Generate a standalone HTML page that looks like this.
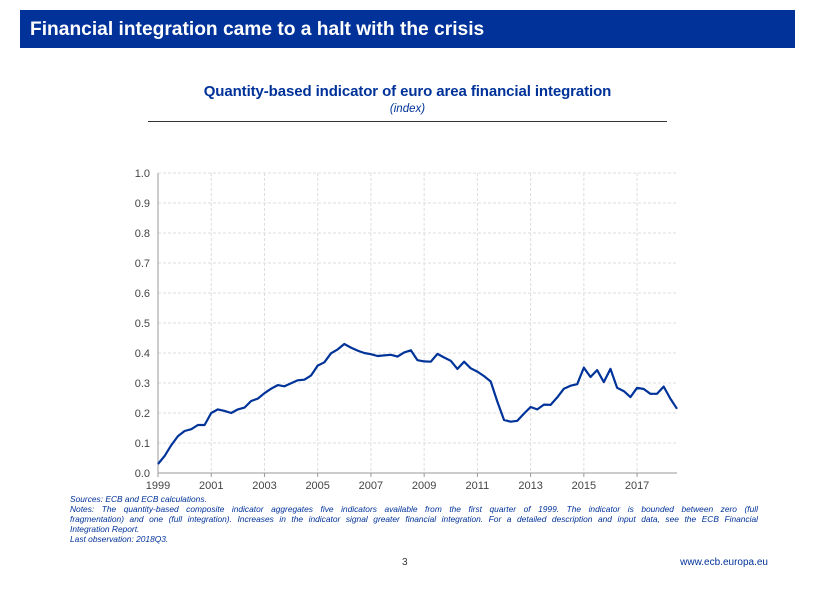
<!DOCTYPE html>
<html><head><meta charset="utf-8"><style>
body{margin:0;width:813px;height:597px;background:#fff;font-family:"Liberation Sans",sans-serif;position:relative;overflow:hidden}
.hdr{position:absolute;left:20px;top:10px;width:775px;height:38px;background:#003299;color:#fff;font-weight:bold;font-size:19.2px;line-height:40px;box-sizing:border-box;padding-left:10px}
.t{position:absolute;left:148px;width:519px;text-align:center;color:#003299}
.notes{position:absolute;left:70px;top:494px;width:688px;font-size:8.4px;font-style:italic;color:#003299;line-height:10px}
.notes .j{text-align:justify;text-align-last:justify;white-space:nowrap}
</style></head><body>
<div class="hdr">Financial integration came to a halt with the crisis</div>
<div class="t" style="top:83px;font-weight:bold;font-size:15px;letter-spacing:-0.1px">Quantity-based indicator of euro area financial integration</div>
<div class="t" style="top:103px;font-style:italic;font-size:11.5px">(index)</div>
<div style="position:absolute;left:148px;top:121px;width:519px;height:1px;background:#333"></div>
<svg id="c" width="813" height="597" style="position:absolute;left:0;top:0"></svg>
<div class="notes">
<div>Sources: ECB and ECB calculations.</div>
<div class="j">Notes: The quantity-based composite indicator aggregates five indicators available from the first quarter of 1999. The indicator is bounded between zero (full</div>
<div class="j">fragmentation) and one (full integration). Increases in the indicator signal greater financial integration. For a detailed description and input data, see the ECB Financial</div>
<div>Integration Report.</div>
<div>Last observation: 2018Q3.</div>
</div>
<div style="position:absolute;left:402px;top:557px;font-size:10px;color:#333">3</div>
<div style="position:absolute;right:45px;top:557px;font-size:10px;color:#003299">www.ecb.europa.eu</div>
<script>
const values=[0.03,0.057,0.093,0.123,0.14,0.146,0.16,0.16,0.2,0.212,0.207,0.2,0.212,0.218,0.24,0.248,0.266,0.281,0.293,0.289,0.299,0.309,0.311,0.325,0.358,0.369,0.399,0.412,0.43,0.418,0.408,0.4,0.396,0.39,0.392,0.394,0.388,0.402,0.409,0.376,0.372,0.371,0.397,0.385,0.374,0.347,0.371,0.349,0.338,0.323,0.305,0.238,0.177,0.171,0.174,0.198,0.22,0.212,0.228,0.227,0.252,0.281,0.291,0.296,0.351,0.32,0.343,0.303,0.347,0.284,0.273,0.253,0.284,0.28,0.264,0.264,0.288,0.248,0.214];
const yTicks=[0,0.1,0.2,0.3,0.4,0.5,0.6,0.7,0.8,0.9,1.0];
const xTicks=[1999,2001,2003,2005,2007,2009,2011,2013,2015,2017];
const NS="http://www.w3.org/2000/svg",svg=document.getElementById('c');
const X0=158,X1=677,Y0=473,Y1=173;
const xq=i=>X0+(X1-X0)*i/78;
const xy=yr=>X0+(yr-1999)*4*(X1-X0)/78;
const y=v=>Y0-(Y0-Y1)*v;
function mk(t,a){const e=document.createElementNS(NS,t);for(const k in a)e.setAttribute(k,a[k]);svg.appendChild(e);return e;}
yTicks.forEach(v=>{
 const g=mk('line',{x1:X0,x2:X1,y1:y(v),y2:y(v),stroke:v===0?'#999':'#ddd','stroke-dasharray':v===0?'':'3,2'});
 
 
 const t=mk('text',{x:X0-8,y:y(v)+4,'text-anchor':'end','font-size':'11','fill':'#444','font-family':'Liberation Sans'});
 t.textContent=v.toFixed(1);
 
 
});
xTicks.forEach(yr=>{
 const x=xy(yr);
 if(yr>1999){const g=mk('line',{x1:x,x2:x,y1:Y1,y2:Y0,stroke:'#ddd','stroke-dasharray':'3,2'});
 
 }
 const tk=mk('line',{x1:x,x2:x,y1:Y0,y2:Y0+4,stroke:'#999'});
 
 
 const t=mk('text',{x:x,y:Y0+16,'text-anchor':'middle','font-size':'11','fill':'#444','font-family':'Liberation Sans'});
 t.textContent=yr;
 
 
});
const ax=mk('line',{x1:X0,x2:X0,y1:Y1,y2:Y0,stroke:'#999'});


const p=mk('polyline',{points:values.map((v,i)=>xq(i)+','+y(v)).join(' '),fill:'none',stroke:'#003399','stroke-width':'2.2','stroke-linejoin':'round'});


</script>
</body></html>
